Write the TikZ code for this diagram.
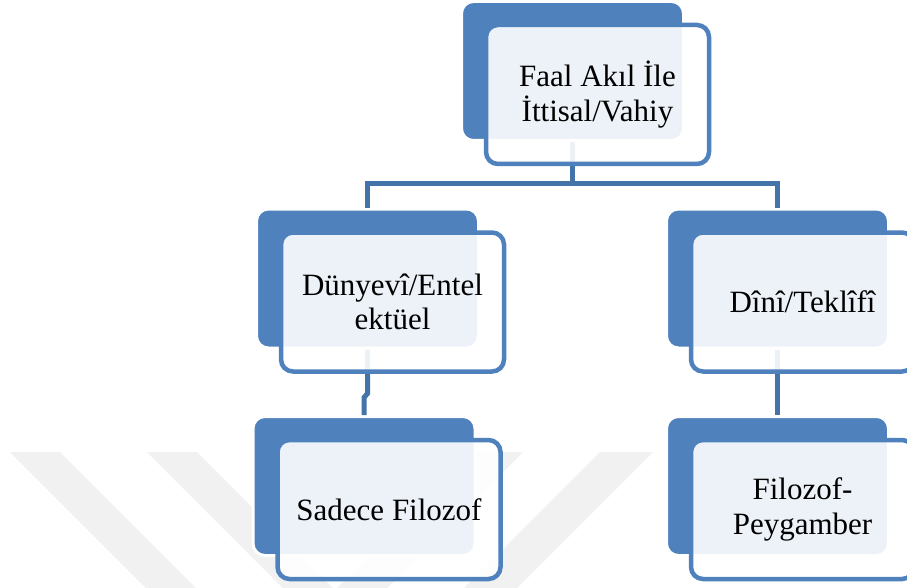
\documentclass[tikz,border=0pt]{standalone}
\usepackage{fontspec}
\setmainfont{Liberation Serif}
\usepackage{xcolor}
\definecolor{b_blue}{HTML}{4F81BD}
\definecolor{l_blue}{HTML}{4473A9}
\definecolor{w_gray}{HTML}{F1F1F1}
\usepackage{tikz}
\usetikzlibrary{positioning}

\begin{document}
\begin{tikzpicture}[
        x=1pt, y=-1pt,
        node distance=65.5pt,
        back/.style={rectangle,rounded corners=12pt,fill=b_blue,draw=white,line width=3pt,
            minimum width=222pt,minimum height=139pt,inner sep=0pt},
        front/.style={rectangle,rounded corners=12pt,fill=white,fill opacity=0.9,text opacity=1,
            draw=b_blue,line width=4.5pt,minimum width=223pt,minimum height=139pt,
            align=center,font=\fontsize{31}{34.5}\selectfont,xshift=25pt,yshift=-23.5pt},
        conn/.style={draw=l_blue,line width=5pt},
        mark band/.style={fill=w_gray}
    ]
        \useasboundingbox (0,0) rectangle (907,588);
        \clip (0,0) rectangle (907,588);
        \fill[white] (0,0) rectangle (907,588);
        % watermark
        \fill[mark band] (10,452) -- (60,452) -- (196,588) -- (146,588) -- cycle;
        \fill[mark band] (147,452) -- (197,452) -- (333,588) -- (283,588) -- cycle;
        \fill[mark band] (473,452) -- (523,452) -- (387,588) -- (337,588) -- cycle;
        \fill[mark band] (600,452) -- (653,452) -- (517,588) -- (464,588) -- cycle;
        % back boxes
        \node[back] (akil-b) at (572.5,71) {};
        \node[back] (duny-b) at (367.5,278.5) {};
        \node[back] (dini-b) [right=185pt of duny-b] {};
        \node[back] (sadece-b) [below=of duny-b, xshift=-3.5pt] {};
        \node[back] (peyg-b) [below=of dini-b] {};
        % connectors
        \draw[conn] (akil-b.south) -- ++(0,41.5) -| (duny-b.north);
        \draw[conn] (akil-b.south) ++(0,41.5) -| (dini-b.north);
        \draw[conn] (duny-b.south) -- ++(0,44) -- ++(-3.5,4) -- (sadece-b.north);
        \draw[conn] (dini-b.south) -- (peyg-b.north);
        % front boxes
        \node[front] (akil) at (akil-b) {Faal Akıl İle\\İttisal/Vahiy};
        \node[front] (duny) at (duny-b) {Dünyevî/Entel\\ektüel};
        \node[front] (dini) at (dini-b) {Dînî/Teklîfî};
        \node[front] (sadece) at (sadece-b) {Sadece Filozof};
        \node[front] (peyg) at (peyg-b) {Filozof-\\Peygamber};
\end{tikzpicture}
\end{document}
